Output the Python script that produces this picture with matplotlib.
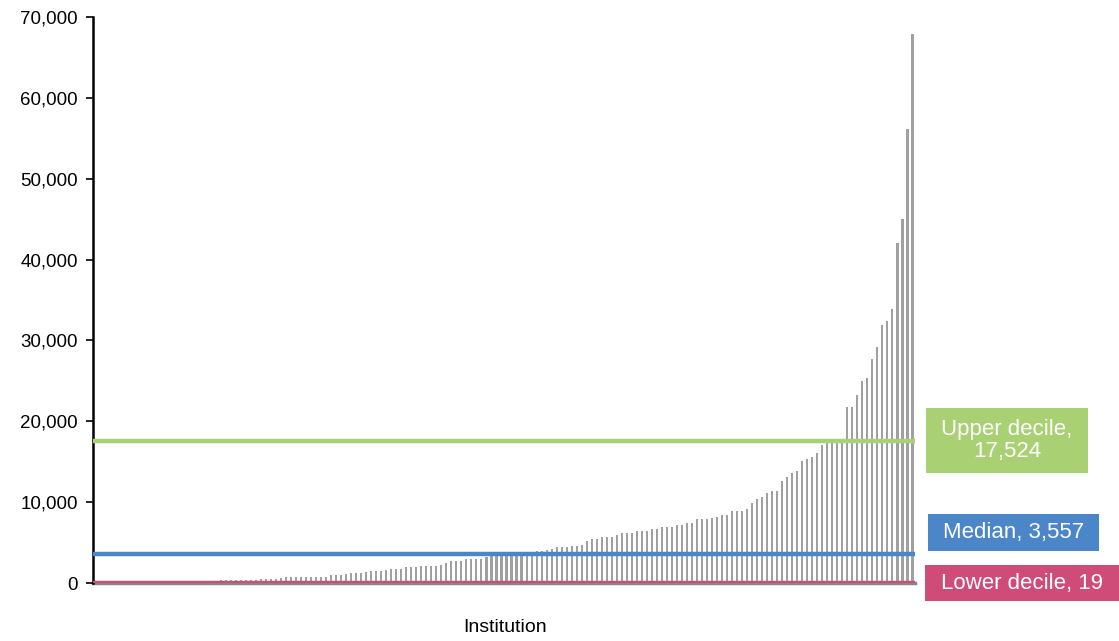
import matplotlib
matplotlib.use("Agg")
from matplotlib import pyplot as plt
from matplotlib.patches import Rectangle
from matplotlib.ticker import FuncFormatter, MultipleLocator
import numpy as np

plt.rcParams['font.family'] = ['Liberation Sans', 'DejaVu Sans']

# values per institution, sorted ascending
values = [
    0, 0, 0, 1, 1, 2, 3, 4, 5, 7, 8, 10, 12, 14, 16, 18,
    190, 230,
    250, 260, 270, 280, 290, 300, 300, 310, 310, 320, 320, 330, 330, 340, 350,
    500, 510, 520, 530, 560, 740,
    740, 750, 750, 760, 760, 770, 770, 780,
    1030, 1040, 1050, 1060,
    1270, 1280, 1290, 1300,
    1520, 1530, 1540, 1550,
    1770, 1780, 1790,
    2020, 2030, 2040, 2050, 2060, 2070, 2080,
    2260, 2510,
    2760, 2770, 2780,
    3000, 3010, 3020, 3030,
    3250, 3350, 3450, 3500, 3614, 3700, 3780, 3800, 3810, 3820, 4000, 4010, 4020,
    4240,
    4490, 4500, 4510, 4520, 4530,
    4740, 5230,
    5480, 5490,
    5730, 5740, 5750,
    5970,
    6220, 6230, 6240,
    6470, 6480, 6490,
    6720, 6730,
    6960, 6970, 6980,
    7210, 7220,
    7460, 7470,
    7950, 7960, 7970, 7980,
    8200,
    8450, 8460,
    8940, 8950, 8960,
    9190,
    9930, 10430, 10670, 11170, 11410, 11420, 12650, 13150, 13640, 13890,
    15120, 15370, 15620, 16110, 17100, 17350, 17600, 17650, 17800,
    21750, 21800, 23230, 24940, 25390, 27730, 29170, 31860, 32400, 33880,
    42020, 44980, 56130, 67950,
]

upper_decile = 17524
median = 3557
lower_decile = 19

refs = [
    ("Upper decile,\n17,524", upper_decile, '#A9D073'),
    ("Median, 3,557", median, '#4A86C8'),
    ("Lower decile, 19", lower_decile, '#D04C78'),
]

W, H = 1119, 641
fig = plt.figure(figsize=(W / 100, H / 100), dpi=100)
ax = fig.add_axes([93 / W, 1 - 583 / H, (915 - 93) / W, (583 - 17) / H])

x = np.arange(len(values))
ax.bar(x, values, width=0.42, color='#A0A0A0', zorder=2)

for label, val, col in refs:
    ax.axhline(val, color=col, lw=3.2, zorder=3)

ax.set_xlim(-0.5, len(values) - 0.5)
ax.set_ylim(0, 70000)
ax.yaxis.set_major_locator(MultipleLocator(10000))
ax.yaxis.set_major_formatter(FuncFormatter(lambda v, p: f"{int(v):,}"))
ax.tick_params(axis='y', direction='out', length=5, width=1.2,
               labelsize=13.5, pad=6)
ax.set_xticks([])
for s in ['top', 'right']:
    ax.spines[s].set_visible(False)
ax.spines['left'].set_linewidth(1.8)
ax.spines['left'].set_color('black')
ax.spines['bottom'].set_linewidth(2.5)
ax.spines['bottom'].set_color('#868686')
ax.spines['bottom'].set_zorder(1)

fig.text(505 / W, 1 - 628 / H, "Institution", ha='center', va='center',
         fontsize=14)

# label boxes to the right of the plot
boxes = [
    (926, 408, 1088, 473),
    (928, 514, 1099, 551),
    (925, 565, 1119, 601),
]
for (label, val, col), (x0, y0, x1, y1) in zip(refs, boxes):
    fig.patches.append(Rectangle((x0 / W, 1 - y1 / H), (x1 - x0) / W,
                                 (y1 - y0) / H, transform=fig.transFigure,
                                 facecolor=col, edgecolor='none'))
    fig.text((x0 + x1) / 2 / W, 1 - (y0 + y1) / 2 / H, label, ha='center',
             va='center', color='white', fontsize=16, linespacing=1.1)

fig.savefig('out.png', dpi=100)
